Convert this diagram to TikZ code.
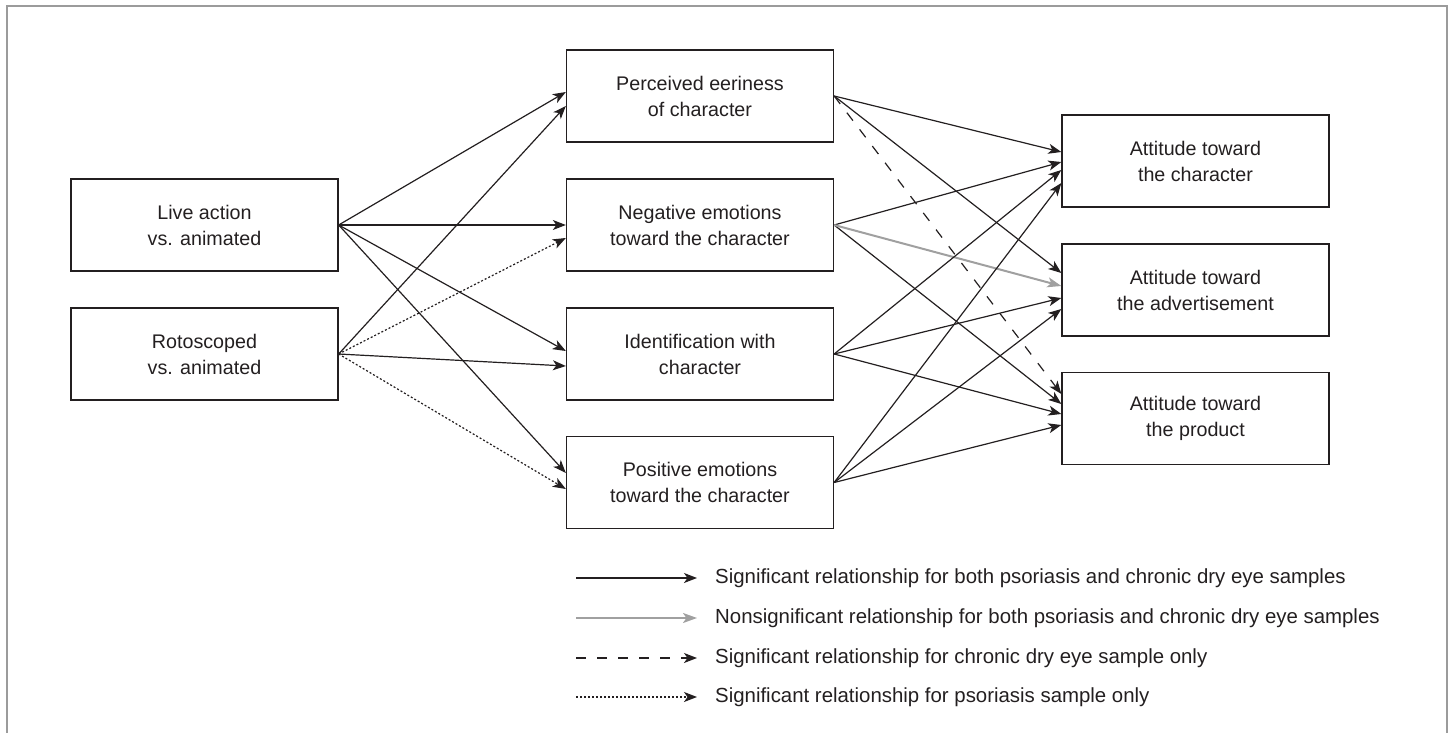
\documentclass[tikz,border=0pt]{standalone}
\usepackage{fontspec}
\setmainfont{Liberation Sans}
\usetikzlibrary{arrows.meta}
\definecolor{ink}{HTML}{231F20}
\definecolor{framegray}{HTML}{9B9B9B}
\definecolor{nsgray}{HTML}{A0A0A0}
\tikzset{
  x=1pt, y=-1pt,
  box/.style={draw=ink, line width=1.3pt, minimum width=267pt, minimum height=92pt,
    align=center, text=ink, font=\fontsize{19.7}{26}\selectfont, inner sep=0pt},
  sig/.style={draw=ink, line width=1.2pt, -{Stealth[length=13pt,width=10pt,inset=3.5pt]}},
  nsig/.style={draw=nsgray, line width=2pt, -{Stealth[length=14pt,width=10pt,inset=3.5pt]}},
  dryonly/.style={sig, dash pattern=on 10pt off 11pt},
  psoonly/.style={sig, dash pattern=on 2pt off 2pt},
  legtext/.style={anchor=west, text=ink, font=\fontsize{20.4}{24}\selectfont, inner sep=0pt}
}
\begin{document}
\begin{tikzpicture}
\useasboundingbox (0,0) rectangle (1451,733);
\draw[framegray, line width=2pt] (7,740) -- (7,6) -- (1447,6) -- (1447,740);

% left column
\node[box] (live) at (204.5,225) {Live action\\vs. animated};
\node[box] (roto) at (204.5,354) {Rotoscoped\\vs. animated};
% middle column
\node[box] (perc) at (700,96) {Perceived eeriness\\of character};
\node[box] (neg) at (700,225) {Negative emotions\\toward the character};
\node[box] (iden) at (700,354) {Identification with\\character};
\node[box] (pos) at (700,482.5) {Positive emotions\\toward the character};
% right column
\node[box] (achar) at (1195.5,161) {Attitude toward\\the character};
\node[box] (aad) at (1195.5,290) {Attitude toward\\the advertisement};
\node[box] (aprod) at (1195.5,418.5) {Attitude toward\\the product};

% left -> middle
\draw[sig] (live.east) -- ([yshift=4pt]perc.west);
\draw[sig] (live.east) -- (neg.west);
\draw[sig] (live.east) -- ([yshift=3pt]iden.west);
\draw[sig] (live.east) -- ([yshift=9.5pt]pos.west);
\draw[sig] (roto.east) -- ([yshift=-10pt]perc.west);
\draw[psoonly] (roto.east) -- ([yshift=-13pt]neg.west);
\draw[sig] (roto.east) -- ([yshift=-12pt]iden.west);
\draw[psoonly] (roto.east) -- ([yshift=-6.5pt]pos.west);

% middle -> right
\draw[sig] (perc.east) -- ([yshift=9pt]achar.west);
\draw[sig] (perc.east) -- ([yshift=17pt]aad.west);
\draw[dryonly] (perc.east) -- ([yshift=24.5pt]aprod.west);
\draw[sig] (neg.east) -- ([yshift=-1pt]achar.west);
\draw[sig] (neg.east) -- ([yshift=14.5pt]aprod.west);
\draw[nsig] (neg.east) -- ([yshift=4pt]aad.west);
\draw[sig] (iden.east) -- ([yshift=-9pt]achar.west);
\draw[sig] (iden.east) -- ([yshift=-8pt]aad.west);
\draw[sig] (iden.east) -- ([yshift=4.5pt]aprod.west);
\draw[sig] (pos.east) -- ([yshift=-22pt]achar.west);
\draw[sig] (pos.east) -- ([yshift=-19pt]aad.west);
\draw[sig] (pos.east) -- ([yshift=-6.5pt]aprod.west);

% legend
\coordinate (l1a) at (576,578); \coordinate (l1b) at (697,578);
\coordinate (l2a) at (576,618); \coordinate (l2b) at (697,618);
\coordinate (l3a) at (576,658); \coordinate (l3b) at (697,658);
\coordinate (l4a) at (576,697); \coordinate (l4b) at (697,697);
\draw[sig] (l1a) -- (l1b);
\draw[nsig] (l2a) -- (l2b);
\draw[dryonly] (l3a) -- (l3b);
\draw[psoonly] (l4a) -- (l4b);
\node[legtext] (t1) at (715,578) {Significant relationship for both psoriasis and chronic dry eye samples};
\node[legtext] (t2) at (715,618) {Nonsignificant relationship for both psoriasis and chronic dry eye samples};
\node[legtext] (t3) at (715,658) {Significant relationship for chronic dry eye sample only};
\node[legtext] (t4) at (715,697) {Significant relationship for psoriasis sample only};
\end{tikzpicture}
\end{document}
